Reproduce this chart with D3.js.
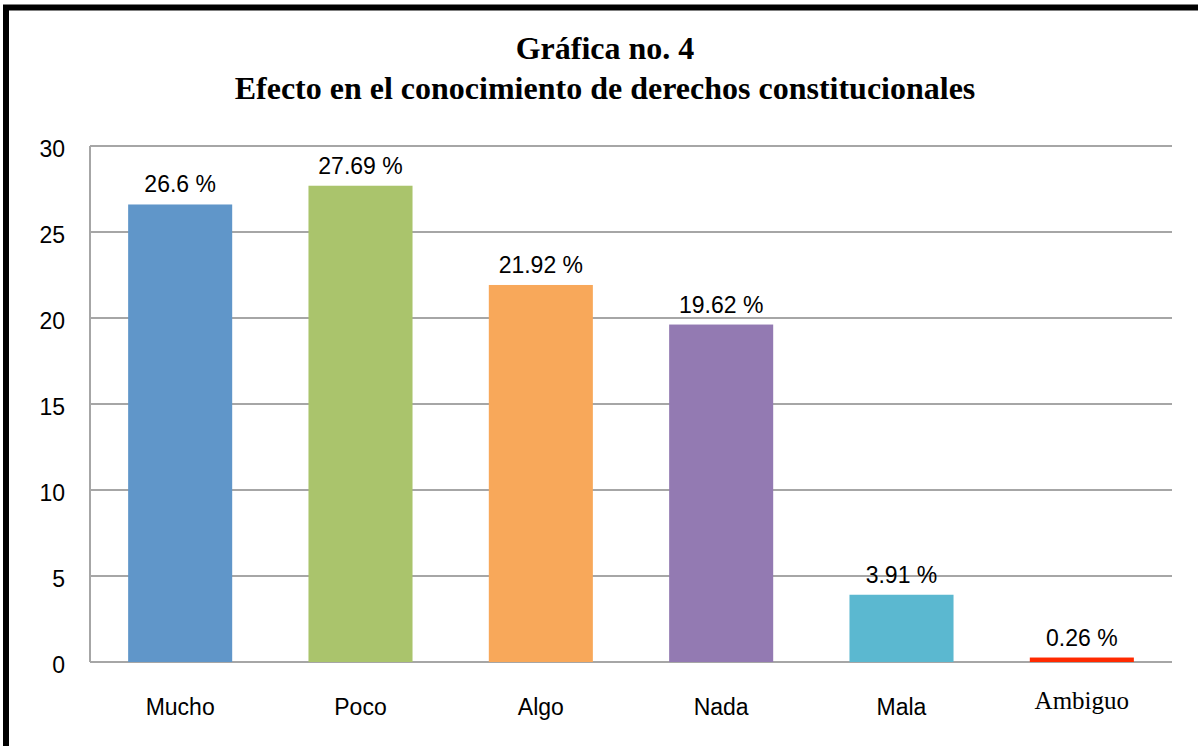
<!DOCTYPE html>
<html>
<head>
<meta charset="utf-8">
<script src="https://cdn.jsdelivr.net/npm/d3@7"></script>
<style>
  body { margin: 0; background: #fff; }
</style>
</head>
<body>
<div id="canvas"></div>
<script>
"use strict"

/* data */
let categories = ["Mucho", "Poco", "Algo", "Nada", "Mala", "Ambiguo"];
let values = [26.6, 27.69, 21.92, 19.62, 3.91, 0.26];
let valueLabels = ["26.6 %", "27.69 %", "21.92 %", "19.62 %", "3.91 %", "0.26 %"];
let barColors = ["#6096c9", "#aac46c", "#f8a85a", "#937ab2", "#5bb8d0", "#ff2a00"];
let yTicks = [0, 5, 10, 15, 20, 25, 30];
let titleLines = ["Gráfica no. 4", "Efecto en el conocimiento de derechos constitucionales"];

let W = 1198, H = 746;
let plot = { left: 90, right: 1172, top: 146, bottom: 662 };

let drawing = d3.select("#canvas")
  .append("svg")
  .attr("width", W)
  .attr("height", H);

/* thick black frame (only left and top show in the picture) */
drawing.append("rect")
  .attr("x", 6).attr("y", 7.5)
  .attr("width", W + 20).attr("height", H + 20)
  .attr("fill", "none")
  .attr("stroke", "black")
  .attr("stroke-width", 6);

/* title */
drawing.selectAll("text.title")
  .data(titleLines)
  .enter().append("text")
  .attr("class", "title")
  .attr("x", 605)
  .attr("y", (d, i) => 59 + i * 40)
  .attr("text-anchor", "middle")
  .attr("font-family", "'Liberation Serif', 'Times New Roman', serif")
  .attr("font-weight", "bold")
  .attr("font-size", 32)
  .text(d => d);

/* scales */
let x = d3.scaleBand()
  .domain(categories)
  .range([plot.left, plot.right])
  .paddingInner(0.423)
  .paddingOuter(0.2115);

let y = d3.scaleLinear()
  .domain([0, 30])
  .range([plot.bottom, plot.top]);

/* gridlines */
drawing.append("g")
  .selectAll("line")
  .data(yTicks)
  .enter().append("line")
  .attr("x1", plot.left).attr("x2", plot.right)
  .attr("y1", d => y(d)).attr("y2", d => y(d))
  .attr("stroke", "#a6a6a6")
  .attr("stroke-width", 2);

/* y axis line */
drawing.append("line")
  .attr("x1", plot.left).attr("x2", plot.left)
  .attr("y1", plot.top).attr("y2", plot.bottom)
  .attr("stroke", "#a6a6a6")
  .attr("stroke-width", 2);

/* y tick labels */
drawing.append("g")
  .selectAll("text")
  .data(yTicks)
  .enter().append("text")
  .attr("x", 65)
  .attr("y", d => y(d) + 5)
  .attr("text-anchor", "end")
  .attr("dominant-baseline", "middle")
  .attr("font-family", "'Liberation Sans', Arial, sans-serif")
  .attr("font-size", 23)
  .attr("fill", "#000")
  .text(d => d);

/* bars */
drawing.append("g")
  .selectAll("rect")
  .data(values)
  .enter().append("rect")
  .attr("x", (d, i) => x(categories[i]))
  .attr("width", x.bandwidth())
  .attr("y", d => y(d))
  .attr("height", d => y(0) - y(d))
  .attr("fill", (d, i) => barColors[i]);

/* value labels */
drawing.append("g")
  .selectAll("text")
  .data(values)
  .enter().append("text")
  .attr("x", (d, i) => x(categories[i]) + x.bandwidth() / 2)
  .attr("y", d => y(d) - 12)
  .attr("text-anchor", "middle")
  .attr("font-family", "'Liberation Sans', Arial, sans-serif")
  .attr("font-size", 23)
  .text((d, i) => valueLabels[i]);

/* category labels ("Ambiguo" is set in a serif face in the original) */
drawing.append("g")
  .selectAll("text")
  .data(categories)
  .enter().append("text")
  .attr("x", d => x(d) + x.bandwidth() / 2)
  .attr("y", d => d === "Ambiguo" ? 709 : 715)
  .attr("text-anchor", "middle")
  .attr("font-family", d => d === "Ambiguo"
    ? "'Liberation Serif', 'Times New Roman', serif"
    : "'Liberation Sans', Arial, sans-serif")
  .attr("font-size", d => d === "Ambiguo" ? 25 : 23)
  .text(d => d);
</script>
</body>
</html>
